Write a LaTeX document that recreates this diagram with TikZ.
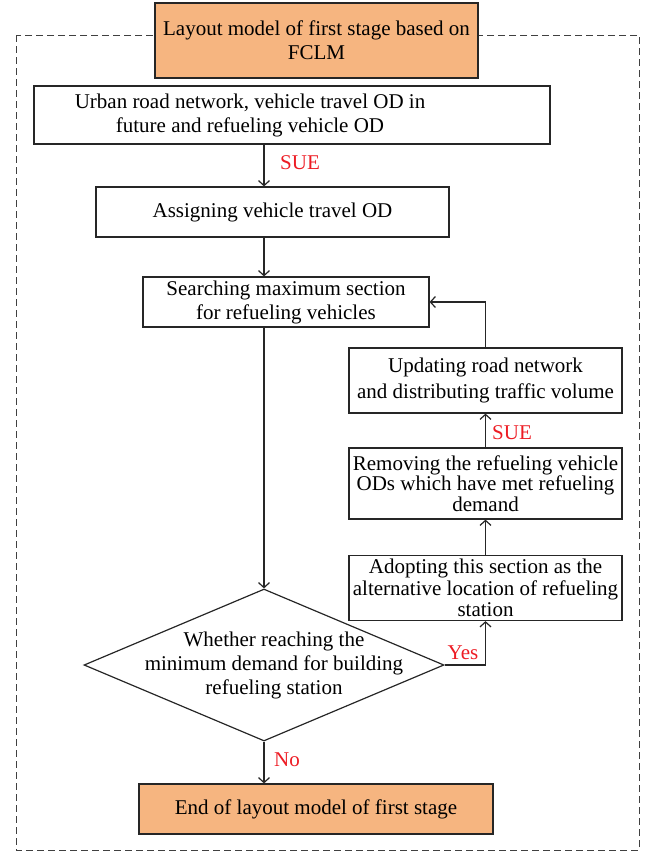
\documentclass[tikz,border=0pt]{standalone}
\usepackage{fontspec}
\setmainfont{Liberation Serif}
\usetikzlibrary{arrows.meta,shapes.geometric}
\definecolor{boxorange}{RGB}{246,181,128}
\definecolor{lblred}{RGB}{237,28,36}
\begin{document}
\begin{tikzpicture}[x=1pt,y=-1pt,
  every node/.style={font=\fontsize{21}{24}\selectfont, inner sep=0pt},
  box/.style={draw=black!85, line width=1.2pt, rectangle},
  obox/.style={box, fill=boxorange},
  txt/.style={align=center},
  arr/.style={draw=black!85, line width=1.2pt, -{Straight Barb[length=5pt,width=11pt]}},
  lbl/.style={text=lblred},
  frame/.style={draw=black!75, line width=1pt, dash pattern=on 7pt off 4pt}]
\useasboundingbox (0,0) rectangle (647,852);
\coordinate (cx) at (264,0);
% outer dashed frame
\draw[frame] (16,35) rectangle (639,850);
% top box
\node[obox, minimum width=323pt, minimum height=75pt, txt] (top) at (316.5,40.5)
  {Layout model of first stage based on\\FCLM};
% box 1
\node[box, minimum width=516pt, minimum height=58pt] (b1) at (292,115) {};
\node[txt] (b1t) at (250,115) {Urban road network, vehicle travel OD in\\future and refueling vehicle OD};
% box 2
\node[box, minimum width=353pt, minimum height=50pt] (b2) at (272.5,212) {Assigning vehicle travel OD};
% box 3
\node[box, minimum width=286pt, minimum height=50pt, txt] (b3) at (286,302)
  {Searching maximum section\\for refueling vehicles};
% diamond
\node[draw=black!85, line width=1.2pt, diamond, minimum width=360pt, minimum height=152pt] (dia) at (264,665) {};
\node[txt] (diat) at (274,665) {Whether reaching the\\minimum demand for building\\refueling station};
% end box
\node[obox, minimum width=354pt, minimum height=50pt] (end) at (316,809) {End of layout model of first stage};
% right column
\node[box, minimum width=273pt, minimum height=65pt, txt, font=\fontsize{21}{21.5}\selectfont] (adopt) at (485.5,588)
  {Adopting this section as the\\alternative location of refueling\\station};
\node[box, minimum width=273pt, minimum height=71pt, txt, font=\fontsize{21}{20.5}\selectfont] (remove) at (485.5,483.5)
  {Removing the refueling vehicle\\ODs which have met refueling\\demand};
\node[box, minimum width=273pt, minimum height=65pt, txt, font=\fontsize{21}{26}\selectfont] (update) at (485.5,380.5)
  {Updating road network\\and distributing traffic volume};
% connectors
\draw[arr] (b1.south -| cx) -- (b2.north -| cx);
\node[lbl] (sue1) at (300,163) {SUE};
\draw[arr] (b2.south -| cx) -- (b3.north -| cx);
\draw[arr] (b3.south -| dia.north) -- (dia.north);
\draw[arr] (dia.south) -- (end.north -| dia.south);
\node[lbl] (no) at (287,760) {No};
\draw[arr] (dia.east) -| (adopt.south);
\node[lbl] (yes) at (463,653) {Yes};
\draw[arr] (adopt.north) -- (remove.south);
\draw[arr] (remove.north) -- (update.south);
\node[lbl] (sue2) at (512,433) {SUE};
\draw[arr] (update.north) |- (b3.east);
\end{tikzpicture}
\end{document}
